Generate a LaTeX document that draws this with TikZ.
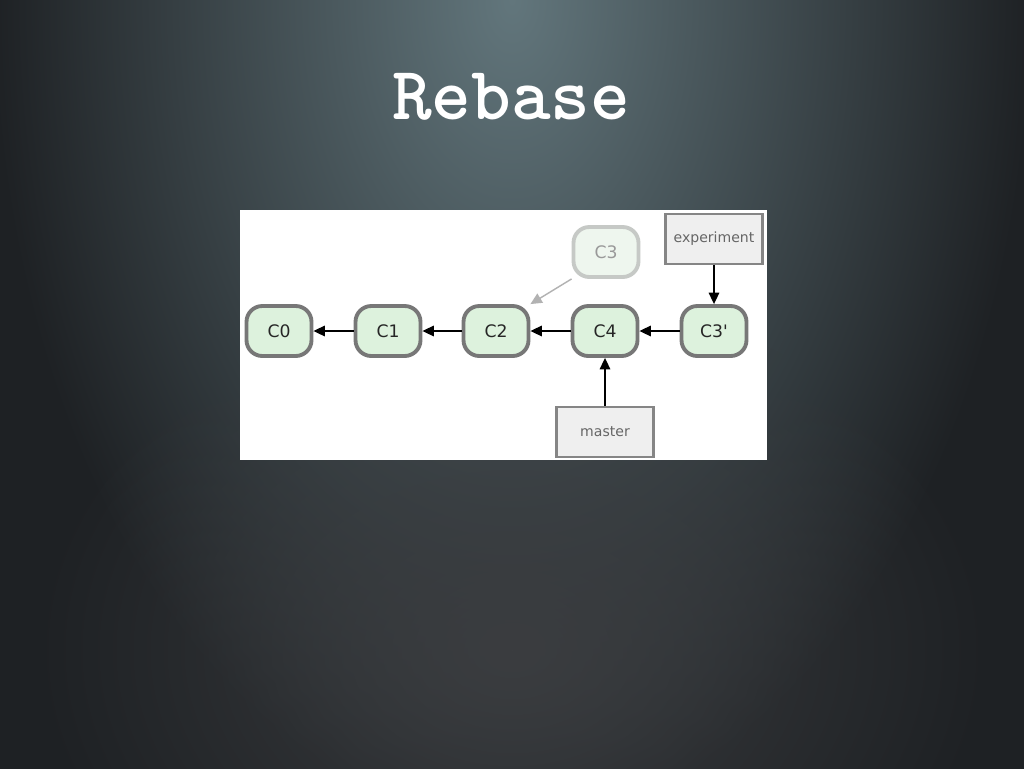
\documentclass[tikz,border=0pt]{standalone}
\usepackage{fontspec}
\newfontfamily\lucida{DejaVu Sans}
\usetikzlibrary{arrows.meta,positioning,fadings}
\tikzfading[name=glowfade,inner color=transparent!0,outer color=transparent!100]
\definecolor{bgdark}{HTML}{1E2124}
\definecolor{bgtop}{HTML}{62767C}
\definecolor{bglow}{HTML}{3B3D40}
\definecolor{commitfill}{HTML}{DDF2DD}
\definecolor{commitline}{HTML}{777777}
\definecolor{fadefill}{HTML}{EEF6EE}
\definecolor{fadeline}{HTML}{C6C9C6}
\definecolor{branchfill}{HTML}{EFEFEF}
\definecolor{branchline}{HTML}{858585}
\tikzset{
  commit/.style={draw=commitline,fill=commitfill,line width=2.2pt,rounded corners=9pt,
    minimum width=1.3cm,minimum height=1.0cm,font=\lucida\fontsize{9.8}{11}\selectfont,text=black!85},
  faded/.style={commit,draw=fadeline,fill=fadefill,text=black!40},
  branch/.style={draw=branchline,fill=branchfill,line width=1.5pt,
    minimum width=1.94cm,minimum height=1.0cm,font=\lucida\fontsize{8}{9}\selectfont,text=black!60},
}
\begin{document}
\begin{tikzpicture}[x=0.02cm,y=-0.02cm,>={Triangle[length=6.5pt,width=6pt]}]
\useasboundingbox (0,0) rectangle (1024,768);
% background
\begin{scope}
\clip (-8,-8) rectangle (1032,776);
\fill[bgdark] (-8,-8) rectangle (1032,776);
\shade[inner color=bgtop,outer color=bgdark] (512,0) ellipse (520 and 820);
\fill[bglow,path fading=glowfade] (512,650) ellipse (480 and 360);
\end{scope}
\node[text=white,font=\ttfamily\bfseries\fontsize{43}{45}\selectfont] (title) at (511,97) {Rebase};
% the diagram panel
\fill[white] (240,210) rectangle (767,460);
\node[commit] (c0) at (279,331) {C0};
\node[commit] (c1) at (388,331) {C1};
\node[commit] (c2) at (496,331) {C2};
\node[commit] (c4) at (605,331) {C4};
\node[commit] (c3p) at (714,331) {C3'};
\node[faded] (c3) at (606,252) {C3};
\node[branch] (exp) at (714,239) {experiment};
\node[branch] (master) at (605,432) {master};
\draw[->,thick] (c1) -- (c0);
\draw[->,thick] (c2) -- (c1);
\draw[->,thick] (c4) -- (c2);
\draw[->,thick] (c3p) -- (c4);
\draw[->,thick] (exp) -- (c3p);
\draw[->,thick] (master) -- (c4);
\draw[->,thick,black!30] (c3.south west) -- (c2.north east);
\end{tikzpicture}
\end{document}
